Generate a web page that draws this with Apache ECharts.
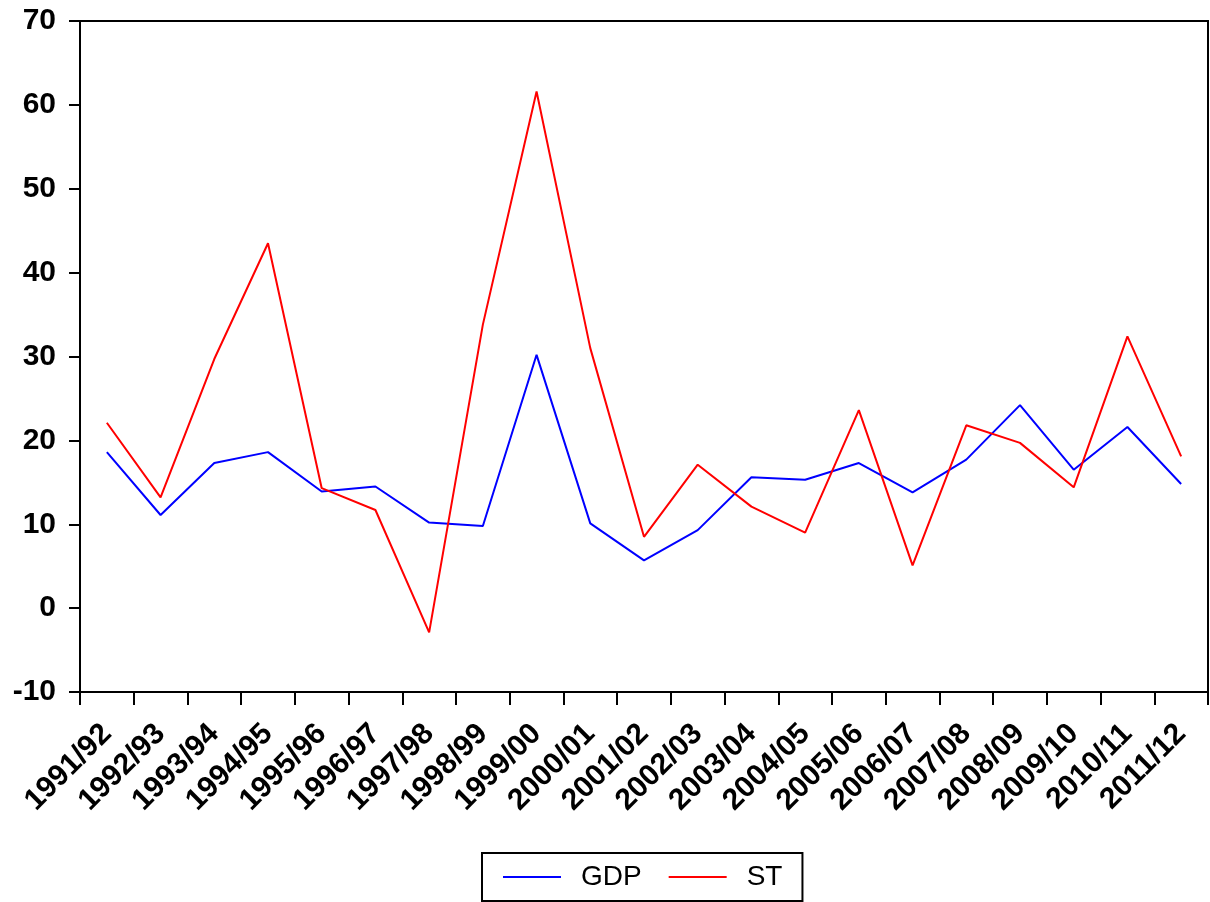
<!DOCTYPE html>
<html>
<head>
<meta charset="utf-8">
<script src="https://cdn.jsdelivr.net/npm/echarts@6/dist/echarts.min.js"></script>
<style>
html,body{margin:0;padding:0;background:#fff;}
#chart{width:1210px;height:902px;}
</style>
</head>
<body>
<div id="chart"></div>
<script>
const categories = ['1991/92','1992/93','1993/94','1994/95','1995/96','1996/97','1997/98','1998/99','1999/00','2000/01','2001/02','2002/03','2003/04','2004/05','2005/06','2006/07','2007/08','2008/09','2009/10','2010/11','2011/12'];
const gdp = [18.6, 11.1, 17.3, 18.6, 13.9, 14.5, 10.2, 9.8, 30.2, 10.1, 5.7, 9.3, 15.6, 15.3, 17.3, 13.8, 17.7, 24.2, 16.5, 21.6, 14.8];
const st  = [22.1, 13.2, 29.7, 43.5, 14.3, 11.7, -2.9, 33.8, 61.6, 31.0, 8.5, 17.1, 12.1, 9.0, 23.6, 5.1, 21.8, 19.7, 14.4, 32.4, 18.1];
const yTicks = {min: -10, max: 70, interval: 10};

const chart = echarts.init(document.getElementById('chart'), null, {renderer: 'canvas'});
const font = "'Liberation Sans', Arial, sans-serif";
chart.setOption({
  animation: false,
  backgroundColor: '#fff',
  grid: {left: 80, right: 2, top: 21, bottom: 210, show: true, borderColor: '#000', borderWidth: 2, backgroundColor: 'transparent'},
  legend: {
    left: 482, top: 853,
    orient: 'horizontal',
    padding: [10, 20, 10, 21],
    itemGap: 27,
    itemWidth: 58, itemHeight: 2,
    icon: 'rect',
    borderColor: '#000', borderWidth: 2,
    textStyle: {fontFamily: font, fontSize: 28, color: '#000', padding: [0, 0, 0, 15], lineHeight: 28},
    data: ['GDP', 'ST']
  },
  xAxis: {
    type: 'category',
    data: categories,
    boundaryGap: true,
    axisLine: {onZero: false, lineStyle: {color: '#000', width: 2}},
    axisTick: {show: true, length: 13, lineStyle: {color: '#000', width: 2}},
    axisLabel: {interval: 0, rotate: 45, margin: 37, fontFamily: font, fontWeight: 'bold', fontSize: 30, color: '#000'},
    splitLine: {show: false}
  },
  yAxis: {
    type: 'value',
    min: yTicks.min, max: yTicks.max, interval: yTicks.interval,
    axisLine: {show: true, lineStyle: {color: '#000', width: 2}},
    axisTick: {show: true, length: 11, lineStyle: {color: '#000', width: 2}},
    axisLabel: {margin: 24, fontFamily: font, fontWeight: 'bold', fontSize: 30, color: '#000'},
    splitLine: {show: false}
  },
  series: [
    {name: 'GDP', type: 'line', data: gdp, showSymbol: false, symbol: 'none', color: '#0000ff', lineStyle: {color: '#0000ff', width: 2}},
    {name: 'ST', type: 'line', data: st, showSymbol: false, symbol: 'none', color: '#ff0000', lineStyle: {color: '#ff0000', width: 2}}
  ]
});
</script>
</body>
</html>
